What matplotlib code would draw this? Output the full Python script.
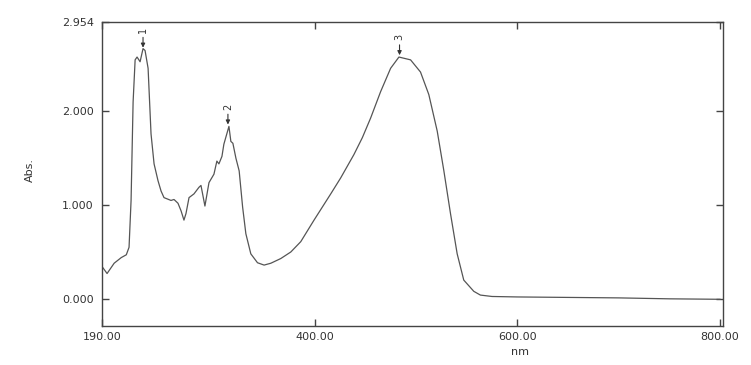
import matplotlib
matplotlib.use("Agg")
import matplotlib.pyplot as plt

# Spectrum (wavelength nm, absorbance)
wavelength = [191, 195, 202, 209, 214, 216.7, 218.7, 220.7, 222.7, 224.6, 227.6, 230.5,
              232.5, 235.5, 238.4, 241.4, 245.3, 248.3, 251.2, 258.1, 261.1, 265, 268,
              270.9, 272.9, 275.9, 280.8, 285.7, 287.7, 291.6, 295.6, 300.5, 303.4,
              305.4, 308.4, 310.3, 315.3, 317.2, 319.2, 322.2, 325.4, 328.8, 332,
              336.9, 343.5, 350, 356.7, 366.5, 376.4, 386.2, 399.3, 415.8, 425.6,
              438.7, 447, 455.2, 465, 474.9, 483.1, 494.6, 504.4, 512.6, 520.9, 527.4,
              534, 540.6, 547.1, 557, 563.5, 575, 600, 650, 700, 750, 800]
absorbance = [0.33, 0.27, 0.38, 0.44, 0.47, 0.55, 1.05, 2.10, 2.55, 2.58, 2.53, 2.67,
              2.65, 2.46, 1.76, 1.44, 1.26, 1.15, 1.08, 1.05, 1.06, 1.02, 0.94,
              0.84, 0.91, 1.08, 1.12, 1.19, 1.21, 0.99, 1.24, 1.33, 1.47,
              1.44, 1.52, 1.65, 1.84, 1.68, 1.66, 1.50, 1.365, 0.98, 0.695,
              0.48, 0.385, 0.36, 0.38, 0.43, 0.50, 0.61, 0.84, 1.12, 1.29,
              1.54, 1.72, 1.93, 2.21, 2.46, 2.58, 2.55, 2.42, 2.18, 1.79, 1.37,
              0.91, 0.48, 0.20, 0.08, 0.04, 0.025, 0.02, 0.015, 0.01, 0.0, -0.005]

# Peak markers
peak_labels = ["1", "2", "3"]
peak_nm = [230.5, 314.3, 483.7]
peak_abs = [2.68, 1.86, 2.60]

x_ticks = [190, 400, 600, 800]
x_ticklabels = ["190.00", "400.00", "600.00", "800.00"]
y_ticks = [0.0, 1.0, 2.0, 2.954]
y_ticklabels = ["0.000", "1.000", "2.000", "2.954"]

fig = plt.figure(figsize=(7.51, 3.65), dpi=100)
ax = fig.add_axes([102 / 751, 1 - 326 / 365, 621 / 751, 304 / 365])

ax.plot(wavelength, absorbance, color="#555555", lw=0.9)

for lab, px, py in zip(peak_labels, peak_nm, peak_abs):
    ax.annotate("", xy=(px, py), xytext=(px, py + 0.11),
                arrowprops=dict(arrowstyle="-|>", lw=0.8, color="#333333",
                                mutation_scale=6, shrinkA=0, shrinkB=0))
    ax.text(px, py + 0.19, lab, rotation=90, ha="center", va="center",
            fontsize=7, color="#333333")

ax.set_xlim(190, 803)
ax.set_ylim(-0.29, 2.954)
ax.set_xticks(x_ticks)
ax.set_xticklabels(x_ticklabels)
ax.set_yticks(y_ticks)
ax.set_yticklabels(y_ticklabels)

ax.tick_params(direction="in", length=5, width=1, color="#444444",
               labelsize=8, labelcolor="#333333", top=True, right=True)
ax.tick_params(axis="x", pad=4)
ax.tick_params(axis="y", pad=6)

for s in ax.spines.values():
    s.set_color("#444444")
    s.set_linewidth(1.0)

ax.set_xlabel("nm", fontsize=8, color="#333333")
ax.xaxis.set_label_coords(0.673, -0.068)
ax.xaxis.label.set_va("top")
ax.set_ylabel("Abs.", fontsize=8, color="#333333")
ax.yaxis.set_label_coords(-0.108, 0.513)

fig.savefig("out.png", dpi=100, facecolor="white")
